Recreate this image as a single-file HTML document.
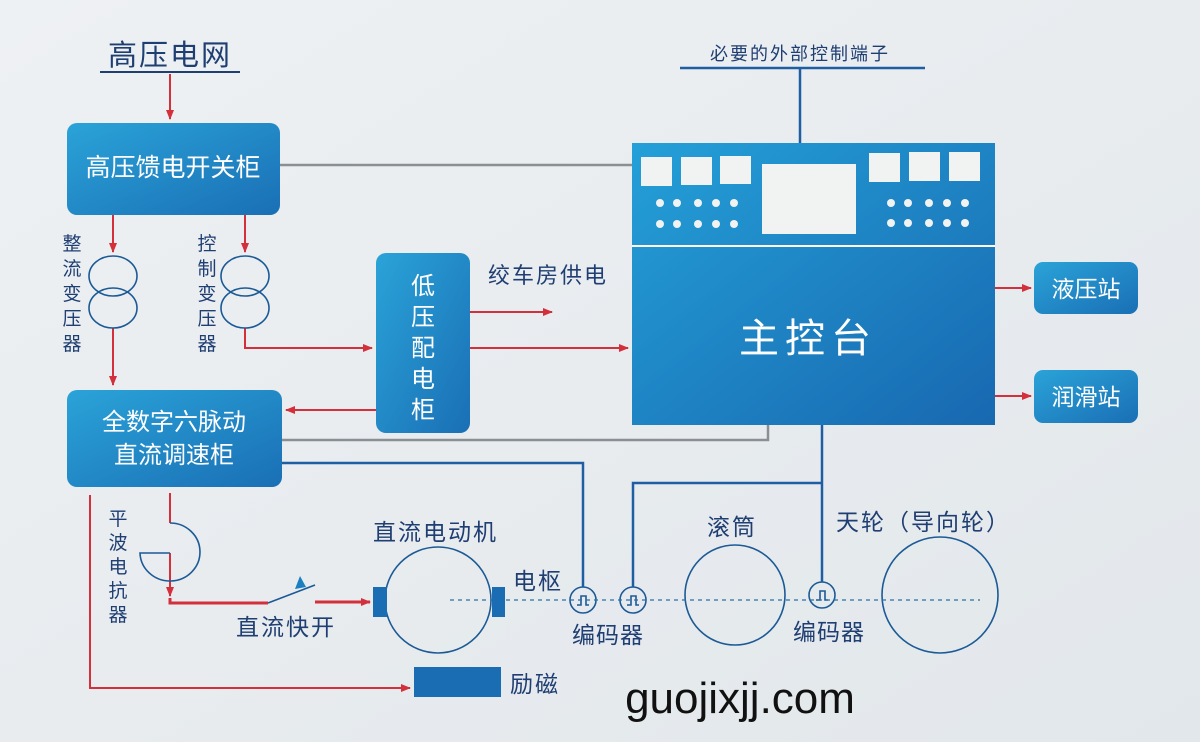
<!DOCTYPE html>
<html><head><meta charset="utf-8"><style>
body{margin:0;width:1200px;height:742px;overflow:hidden;background:#e9edf0}
svg{display:block}
text{font-family:"Liberation Sans","Noto Sans CJK SC",sans-serif}
</style></head><body>
<svg width="1200" height="742" viewBox="0 0 1200 742" xmlns="http://www.w3.org/2000/svg">
<defs>
<linearGradient id="bg" x1="0" y1="0" x2="1" y2="1"><stop offset="0" stop-color="#eef1f3"/><stop offset="1" stop-color="#e2e7eb"/></linearGradient>
<linearGradient id="bx" x1="0" y1="0" x2="1" y2="1"><stop offset="0" stop-color="#2aa3d8"/><stop offset="1" stop-color="#1a6fb5"/></linearGradient>
<linearGradient id="mc" x1="0" y1="0" x2="1" y2="1"><stop offset="0" stop-color="#24a0d8"/><stop offset="1" stop-color="#1868b0"/></linearGradient>
<marker id="ar" markerWidth="10" markerHeight="8" refX="9" refY="4" orient="auto" markerUnits="userSpaceOnUse"><path d="M0,0 L10,4 L0,8 Z" fill="#d3303b"/></marker>
</defs>
<rect width="1200" height="742" fill="url(#bg)"/>
<g fill="none" stroke="#d3303b" stroke-width="2">
<line x1="170" y1="74" x2="170" y2="119" marker-end="url(#ar)"/>
<line x1="113" y1="215" x2="113" y2="252" marker-end="url(#ar)"/>
<line x1="245" y1="215" x2="245" y2="252" marker-end="url(#ar)"/>
<line x1="113" y1="328" x2="113" y2="385" marker-end="url(#ar)"/>
<polyline points="245,328 245,348 372,348" marker-end="url(#ar)"/>
<line x1="470" y1="312" x2="552" y2="312" marker-end="url(#ar)"/>
<line x1="470" y1="348" x2="628" y2="348" marker-end="url(#ar)"/>
<line x1="376" y1="410" x2="286" y2="410" marker-end="url(#ar)"/>
<line x1="995" y1="288" x2="1031" y2="288" marker-end="url(#ar)"/>
<line x1="995" y1="396" x2="1031" y2="396" marker-end="url(#ar)"/>
<polyline points="90,495 90,688 410,688" marker-end="url(#ar)"/>
<line x1="170" y1="493" x2="170" y2="523"/>
<line x1="170" y1="553" x2="170" y2="596" marker-end="url(#ar)"/>
<polyline points="170,598 170,603 268,603" stroke-width="3"/>
<line x1="315" y1="602" x2="370" y2="602" stroke-width="3" marker-end="url(#ar)"/>
</g>
<g fill="none" stroke="#1c5a96" stroke-width="1.6">
<ellipse cx="113" cy="276" rx="24" ry="20"/><ellipse cx="113" cy="308" rx="24" ry="20"/>
<ellipse cx="245" cy="276" rx="24" ry="20"/><ellipse cx="245" cy="308" rx="24" ry="20"/>
<path d="M170,523 A30,29 0 1 1 140,553 L170,553"/>
<circle cx="438" cy="600" r="53"/>
<circle cx="735" cy="595" r="50"/>
<circle cx="940" cy="595" r="58"/>
<circle cx="583" cy="600" r="13"/><circle cx="633" cy="600" r="13"/><circle cx="822" cy="595" r="13"/>
<path d="M577,605 h4 v-9 h5 v9 h3 M627,605 h4 v-9 h5 v9 h3 M816,600 h4 v-9 h5 v9 h3"/>
</g>
<line x1="268" y1="603" x2="315" y2="585" stroke="#1c5a96" stroke-width="1.6"/>
<path d="M295,589 L300,576 L306,587 Z" fill="#1c80c0"/>
<line x1="450" y1="600" x2="980" y2="600" stroke="#2a6fa8" stroke-width="1.2" stroke-dasharray="4,4"/>
<rect x="373" y="587" width="14" height="30" fill="#1a6db2"/>
<rect x="492" y="587" width="13" height="30" fill="#1a6db2"/>
<rect x="414" y="667" width="87" height="30" fill="#1a6db2"/>
<g fill="none" stroke="#8a8f94" stroke-width="2.5">
<line x1="280" y1="165" x2="632" y2="165"/>
<polyline points="282,440 768,440 768,425"/>
</g>
<g fill="none" stroke="#1f5ea3" stroke-width="2.5">
<polyline points="282,463 583,463 583,587"/>
<line x1="822" y1="425" x2="822" y2="582"/>
<polyline points="822,483 633,483 633,587"/>
<line x1="800" y1="143" x2="800" y2="68"/>
<line x1="680" y1="68" x2="925" y2="68"/>
</g>
<line x1="100" y1="72" x2="240" y2="72" stroke="#1f3e72" stroke-width="2"/>
<rect x="67" y="123" width="213" height="92" rx="10" fill="url(#bx)"/>
<rect x="67" y="390" width="215" height="97" rx="10" fill="url(#bx)"/>
<rect x="376" y="253" width="94" height="180" rx="10" fill="url(#bx)"/>
<rect x="1034" y="262" width="104" height="52" rx="9" fill="url(#bx)"/>
<rect x="1034" y="370" width="104" height="53" rx="9" fill="url(#bx)"/>
<rect x="632" y="143" width="363" height="282" fill="url(#mc)"/>
<line x1="632" y1="246" x2="995" y2="246" stroke="#fff" stroke-width="2"/>
<g fill="#f1f2f2">
<rect x="641" y="157" width="31" height="29"/><rect x="681" y="157" width="31" height="28"/><rect x="720" y="156" width="31" height="28"/>
<rect x="762" y="164" width="94" height="70"/>
<rect x="869" y="153" width="31" height="29"/><rect x="909" y="152" width="31" height="29"/><rect x="949" y="152" width="31" height="29"/>
<g>
<circle cx="660" cy="203" r="4"/><circle cx="677" cy="203" r="4"/><circle cx="698" cy="203" r="4"/><circle cx="716" cy="203" r="4"/><circle cx="734" cy="203" r="4"/>
<circle cx="660" cy="224" r="4"/><circle cx="677" cy="224" r="4"/><circle cx="698" cy="224" r="4"/><circle cx="716" cy="224" r="4"/><circle cx="734" cy="224" r="4"/>
<circle cx="891" cy="203" r="4"/><circle cx="908" cy="203" r="4"/><circle cx="929" cy="203" r="4"/><circle cx="947" cy="203" r="4"/><circle cx="965" cy="203" r="4"/>
<circle cx="891" cy="223" r="4"/><circle cx="908" cy="223" r="4"/><circle cx="929" cy="223" r="4"/><circle cx="947" cy="223" r="4"/><circle cx="965" cy="223" r="4"/>
</g>
</g>
<g fill="#fff" text-anchor="middle">
<text x="173" y="176" font-size="25">高压馈电开关柜</text>
<text x="174" y="430" font-size="24">全数字六脉动</text>
<text x="174" y="463" font-size="24">直流调速柜</text>
<text x="423" y="294" font-size="24">低</text><text x="423" y="325" font-size="24">压</text><text x="423" y="356" font-size="24">配</text><text x="423" y="387" font-size="24">电</text><text x="423" y="418" font-size="24">柜</text>
<text x="808" y="352" font-size="40" letter-spacing="6">主控台</text>
<text x="1086" y="297" font-size="23">液压站</text>
<text x="1086" y="405" font-size="23">润滑站</text>
</g>
<g fill="#1f3e72">
<text x="170" y="65" font-size="29" text-anchor="middle" letter-spacing="2">高压电网</text>
<text x="800" y="60" font-size="18" text-anchor="middle" letter-spacing="2">必要的外部控制端子</text>
<g font-size="19" text-anchor="middle">
<text x="72" y="250">整</text><text x="72" y="275">流</text><text x="72" y="300">变</text><text x="72" y="325">压</text><text x="72" y="350">器</text>
<text x="207" y="250">控</text><text x="207" y="275">制</text><text x="207" y="300">变</text><text x="207" y="325">压</text><text x="207" y="350">器</text>
<text x="118" y="525">平</text><text x="118" y="549">波</text><text x="118" y="573">电</text><text x="118" y="597">抗</text><text x="118" y="621">器</text>
</g>
<text x="488" y="283" font-size="22" letter-spacing="2">绞车房供电</text>
<text x="373" y="540" font-size="23" letter-spacing="2">直流电动机</text>
<text x="236" y="635" font-size="23" letter-spacing="2">直流快开</text>
<text x="513" y="589" font-size="23" letter-spacing="2">电枢</text>
<text x="572" y="643" font-size="23" letter-spacing="1">编码器</text>
<text x="793" y="640" font-size="23" letter-spacing="1">编码器</text>
<text x="707" y="535" font-size="23" letter-spacing="2">滚筒</text>
<text x="836" y="530" font-size="23" letter-spacing="2">天轮（导向轮）</text>
<text x="510" y="692" font-size="23" letter-spacing="2">励磁</text>
</g>
<text x="740" y="713" font-size="44" fill="#111" text-anchor="middle">guojixjj.com</text>
</svg>
</body></html>
